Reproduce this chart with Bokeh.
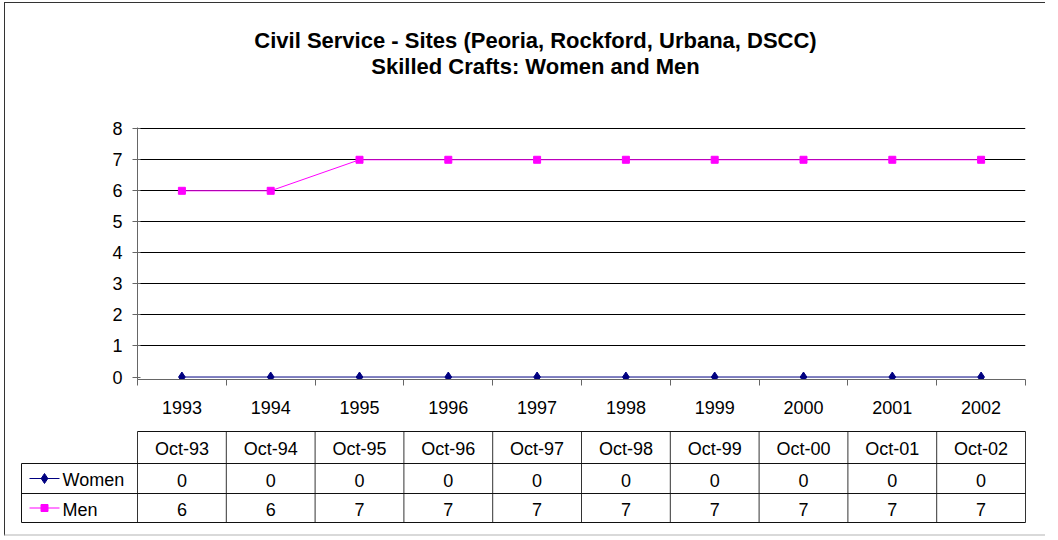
import numpy as np
from bokeh.plotting import figure
from bokeh.layouts import column
from bokeh.models import Range1d, FixedTicker, ColumnDataSource
from bokeh.core.properties import value
from bokeh.embed import file_html
from bokeh.resources import INLINE

# ---------------- data ----------------
title_lines = ["Civil Service - Sites (Peoria, Rockford, Urbana, DSCC)",
               "Skilled Crafts: Women and Men"]
years = ["1993", "1994", "1995", "1996", "1997", "1998", "1999", "2000", "2001", "2002"]
dates = ["Oct-93", "Oct-94", "Oct-95", "Oct-96", "Oct-97", "Oct-98", "Oct-99",
         "Oct-00", "Oct-01", "Oct-02"]
women = [0, 0, 0, 0, 0, 0, 0, 0, 0, 0]
men = [6, 6, 7, 7, 7, 7, 7, 7, 7, 7]
series_names = ["Women", "Men"]
y_ticks = [0, 1, 2, 3, 4, 5, 6, 7, 8]

# ---------------- style / layout ----------------
FONT = "Liberation Sans"
FS = "18px"
WOMEN_C = "#000080"
MEN_C = "#FF00FF"
W = 1040
FRAME_L, FRAME_R = 132, 1020      # chart frame, canvas pixels
n = len(years)
UNIT = (FRAME_R - FRAME_L) / n


def px_to_x(px):
    return 0.5 + (px - FRAME_L) / UNIT


xs = np.arange(1, n + 1)

# ---------------- title strip ----------------
H0 = 96
p0 = figure(width=W, height=H0, x_range=Range1d(0, W), y_range=Range1d(H0, 0),
            x_axis_location=None, y_axis_location=None, toolbar_location=None,
            output_backend="svg", min_border=0, frame_align=False)
p0.grid.visible = False
p0.outline_line_color = None
p0.text(x=[530, 530], y=[36.5, 63], text=title_lines, text_font=value(FONT),
        text_font_size="22px", text_font_style="bold", text_align="center",
        text_baseline="middle", text_color="black")

# ---------------- chart ----------------
H1 = 325
p1 = figure(width=W, height=H1, x_range=Range1d(0.5, n + 0.5), y_range=Range1d(-0.08, 8.04),
            min_border_left=FRAME_L, min_border_right=W - FRAME_R,
            min_border_top=28, min_border_bottom=45, frame_align=False,
            toolbar_location=None, output_backend="svg")
p1.outline_line_color = None
p1.xgrid.visible = False
p1.ygrid.ticker = FixedTicker(ticks=y_ticks[1:])
p1.ygrid.grid_line_color = "black"
p1.ygrid.grid_line_width = 1

p1.yaxis.ticker = FixedTicker(ticks=y_ticks)
p1.yaxis.major_tick_in = 3
p1.yaxis.major_tick_out = 5
p1.yaxis.major_label_standoff = 10

p1.xaxis.ticker = FixedTicker(ticks=list(xs), minor_ticks=list(np.arange(0.5, n + 1, 1.0)))
p1.xaxis.major_label_overrides = {int(i): y for i, y in zip(xs, years)}
p1.xaxis.major_tick_in = 0
p1.xaxis.major_tick_out = 0
p1.xaxis.minor_tick_in = 0
p1.xaxis.minor_tick_out = 6
p1.xaxis.major_label_standoff = 15

for ax in (p1.xaxis, p1.yaxis):
    ax.axis_line_color = "#666666"
    ax.major_tick_line_color = "#666666"
    ax.minor_tick_line_color = "#666666"
    ax.major_label_text_font = FONT
    ax.major_label_text_font_size = FS
    ax.major_label_text_color = "black"
p1.yaxis.minor_tick_line_color = None

src = ColumnDataSource(dict(x=xs, women=women, men=men))
p1.line("x", "women", source=src, line_color=WOMEN_C, line_width=1)
p1.scatter("x", "women", source=src, marker="diamond", size=10,
           fill_color=WOMEN_C, line_color=WOMEN_C)
p1.line("x", "men", source=src, line_color=MEN_C, line_width=1)
p1.scatter("x", "men", source=src, marker="square", size=7,
           fill_color=MEN_C, line_color=MEN_C)

# ---------------- data table ----------------
H2 = 110
p2 = figure(width=W, height=H2, x_range=Range1d(px_to_x(0), px_to_x(W)),
            y_range=Range1d(H2, 0), x_axis_location=None, y_axis_location=None,
            toolbar_location=None, output_backend="svg", min_border=0, frame_align=False)
p2.grid.visible = False
p2.outline_line_color = None

rows = [7, 39, 69, 98]            # table row edges, px from top of this strip
leg_l = px_to_x(16)
bounds = np.arange(0.5, n + 1, 1.0)
p2.segment(x0=bounds, y0=[rows[0]] * len(bounds), x1=bounds, y1=[rows[3]] * len(bounds),
           line_color="#333333", line_width=1)
p2.segment(x0=[leg_l], y0=[rows[1]], x1=[leg_l], y1=[rows[3]], line_color="#111111", line_width=1)
p2.segment(x0=[0.5, leg_l, leg_l, leg_l], y0=rows, x1=[n + 0.5] * 4, y1=rows,
           line_color="#111111", line_width=1)

centers = [(rows[i] + rows[i + 1]) / 2 + 1.5 for i in range(3)]
tkw = dict(text_font=value(FONT), text_font_size=FS, text_color="black",
           text_align="center", text_baseline="middle")
p2.text(x=xs, y=[centers[0]] * n, text=dates, **tkw)
p2.text(x=xs, y=[centers[1]] * n, text=[str(v) for v in women], **tkw)
p2.text(x=xs, y=[centers[2]] * n, text=[str(v) for v in men], **tkw)

for i, (name, col, mk, sz) in enumerate([(series_names[0], WOMEN_C, "diamond", 10),
                                          (series_names[1], MEN_C, "square", 7)]):
    yc = (rows[i + 1] + rows[i + 2]) / 2
    p2.line(x=[px_to_x(24), px_to_x(54)], y=[yc, yc], line_color=col, line_width=1)
    p2.scatter(x=[px_to_x(39)], y=[yc], marker=mk, size=sz, fill_color=col, line_color=col)
    p2.text(x=[px_to_x(57)], y=[yc + 1.5], text=[name], text_font=value(FONT),
            text_font_size=FS, text_color="black", text_align="left", text_baseline="middle")

layout = column(p0, p1, p2, spacing=0,
                styles={"border-left": "1px solid #333333", "border-top": "1px solid #333333",
                        "border-bottom": "2px solid #d9d9d9", "margin-left": "4px",
                        "margin-top": "2px"})

open("out.html", "w").write(file_html(layout, INLINE))
